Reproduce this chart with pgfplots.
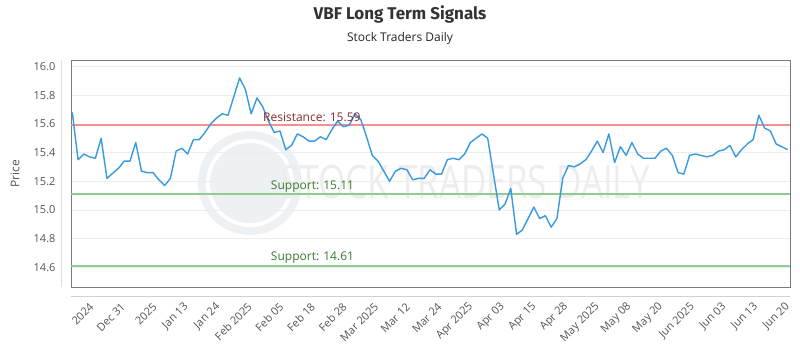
\documentclass[border=0pt]{standalone}
\usepackage{pgfplots}
\pgfplotsset{compat=1.18}
\usepackage{pgfplotstable}
\usepackage{fontspec}
\setmainfont{Open Sans}
\newfontfamily\titlefont{Fira Sans}
\definecolor{linecol}{HTML}{3A9AE0}
\definecolor{rescol}{HTML}{F29191}
\definecolor{supcol}{HTML}{90CC90}
\definecolor{reslab}{HTML}{8B2A2A}
\definecolor{suplab}{HTML}{3C7A2E}
\definecolor{txt}{HTML}{555555}
\definecolor{framecol}{HTML}{7A7A7A}
\definecolor{wm}{HTML}{EDF1F4}

\pgfplotstableread{
idx val
0 15.68
1 15.35
2 15.39
3 15.37
4 15.36
5 15.50
6 15.22
7 15.255
8 15.29
9 15.34
10 15.34
11 15.47
12 15.27
13 15.26
14 15.26
15 15.21
16 15.17
17 15.22
18 15.41
19 15.43
20 15.39
21 15.49
22 15.49
23 15.54
24 15.60
25 15.64
26 15.67
27 15.66
28 15.79
29 15.92
30 15.84
31 15.67
32 15.78
33 15.72
34 15.62
35 15.54
36 15.55
37 15.42
38 15.45
39 15.53
40 15.51
41 15.48
42 15.48
43 15.51
44 15.49
45 15.56
46 15.62
47 15.58
48 15.59
49 15.67
50 15.63
51 15.51
52 15.38
53 15.34
54 15.27
55 15.20
56 15.27
57 15.29
58 15.28
59 15.21
60 15.22
61 15.22
62 15.28
63 15.25
64 15.25
65 15.35
66 15.36
67 15.35
68 15.39
69 15.47
70 15.50
71 15.53
72 15.50
73 15.25
74 15.00
75 15.04
76 15.15
77 14.83
78 14.86
79 14.94
80 15.02
81 14.94
82 14.96
83 14.88
84 14.94
85 15.22
86 15.31
87 15.30
88 15.32
89 15.35
90 15.41
91 15.48
92 15.40
93 15.53
94 15.33
95 15.44
96 15.38
97 15.47
98 15.39
99 15.36
100 15.36
101 15.36
102 15.41
103 15.43
104 15.38
105 15.26
106 15.25
107 15.38
108 15.39
109 15.38
110 15.37
111 15.38
112 15.41
113 15.42
114 15.45
115 15.37
116 15.42
117 15.46
118 15.49
119 15.66
120 15.57
121 15.55
122 15.46
123 15.44
124 15.42
}\pricedata

\begin{document}
\begin{tikzpicture}
\useasboundingbox (0pt,0pt) rectangle (800pt,350pt);
\fill[white] (0pt,0pt) rectangle (800pt,350pt);
% watermark
\fill[wm] (250pt,167pt) circle (52pt);
\fill[white] (250pt,167pt) circle (44pt);
\fill[wm] (250pt,167pt) circle (40pt);
\node[text=black!7, font=\fontsize{46}{46}\selectfont, xscale=0.76, anchor=west] at (278pt,168pt) {STOCK TRADERS DAILY};
% titles
\node[font=\titlefont\bfseries\fontsize{17}{20}\selectfont, text=black!80] at (400pt,336pt) {VBF Long Term Signals};
\node[font=\fontsize{12}{14}\selectfont, text=black!85] at (400pt,311.5pt) {Stock Traders Daily};
\node[rotate=90, font=\fontsize{12}{14}\selectfont, text=txt] at (15pt,176.5pt) {Price};
% offset axis lines
\draw[gray!35, line width=0.8pt] (71pt,54pt) -- (790pt,54pt);
\draw[gray!25, line width=0.8pt] (61pt,63pt) -- (61pt,290pt);
\begin{axis}[
  scale only axis, width=719pt, height=227pt,
  at={(71pt,63pt)}, anchor=south west,
  xmin=-0.225, xmax=124.4, ymin=14.463, ymax=16.045,
  axis line style={draw=framecol, line width=0.8pt},
  major tick length=0pt,
  ymajorgrids, major grid style={color=black!7, line width=0.6pt},
  ytick={14.6,14.8,15.0,15.2,15.4,15.6,15.8,16.0},
  yticklabel style={/pgf/number format/.cd, fixed, fixed zerofill, precision=1, /tikz/.cd,
    font=\fontsize{11}{13}\selectfont, text=txt, anchor=east, xshift=-12pt},
  /pgf/number format/assume math mode=true,
  xtick={3.36,8.84,14.33,19.81,25.30,30.78,36.26,41.75,47.23,52.72,58.20,63.68,69.17,74.65,80.14,85.62,91.10,96.59,102.07,107.56,113.04,118.52,124.01},
  xticklabels={2024, Dec 31, 2025, Jan 13, Jan 24, Feb 2025, Feb 05, Feb 18, Feb 28, Mar 2025, Mar 12, Mar 24, Apr 2025, Apr 03, Apr 15, Apr 28, May 2025, May 08, May 20, Jun 2025, Jun 03, Jun 13, Jun 20},
  xticklabel style={yshift=-18pt, rotate=45, anchor=east, inner sep=0pt,
    font=\fontsize{11}{13}\selectfont, text=txt},
  clip=false,
]
\addplot[rescol, line width=1.6pt, forget plot] coordinates {(-0.225,15.59) (124.4,15.59)};
\addplot[supcol, line width=1.6pt, forget plot] coordinates {(-0.225,15.11) (124.4,15.11)};
\addplot[supcol, line width=1.6pt, forget plot] coordinates {(-0.225,14.61) (124.4,14.61)};
\addplot[linecol, line width=1.4pt, line join=round] table[x=idx, y=val] {\pricedata};
\node[anchor=base west, inner sep=0pt, text=reslab, font=\fontsize{12}{14}\selectfont, yshift=3.5pt] at (axis cs:33.05,15.59) {Resistance: 15.59};
\node[anchor=base west, inner sep=0pt, text=suplab, font=\fontsize{12}{14}\selectfont, yshift=5pt] at (axis cs:34.4,15.11) {Support: 15.11};
\node[anchor=base west, inner sep=0pt, text=suplab, font=\fontsize{12}{14}\selectfont, yshift=5pt] at (axis cs:34.4,14.61) {Support: 14.61};
\end{axis}
\end{tikzpicture}
\end{document}
